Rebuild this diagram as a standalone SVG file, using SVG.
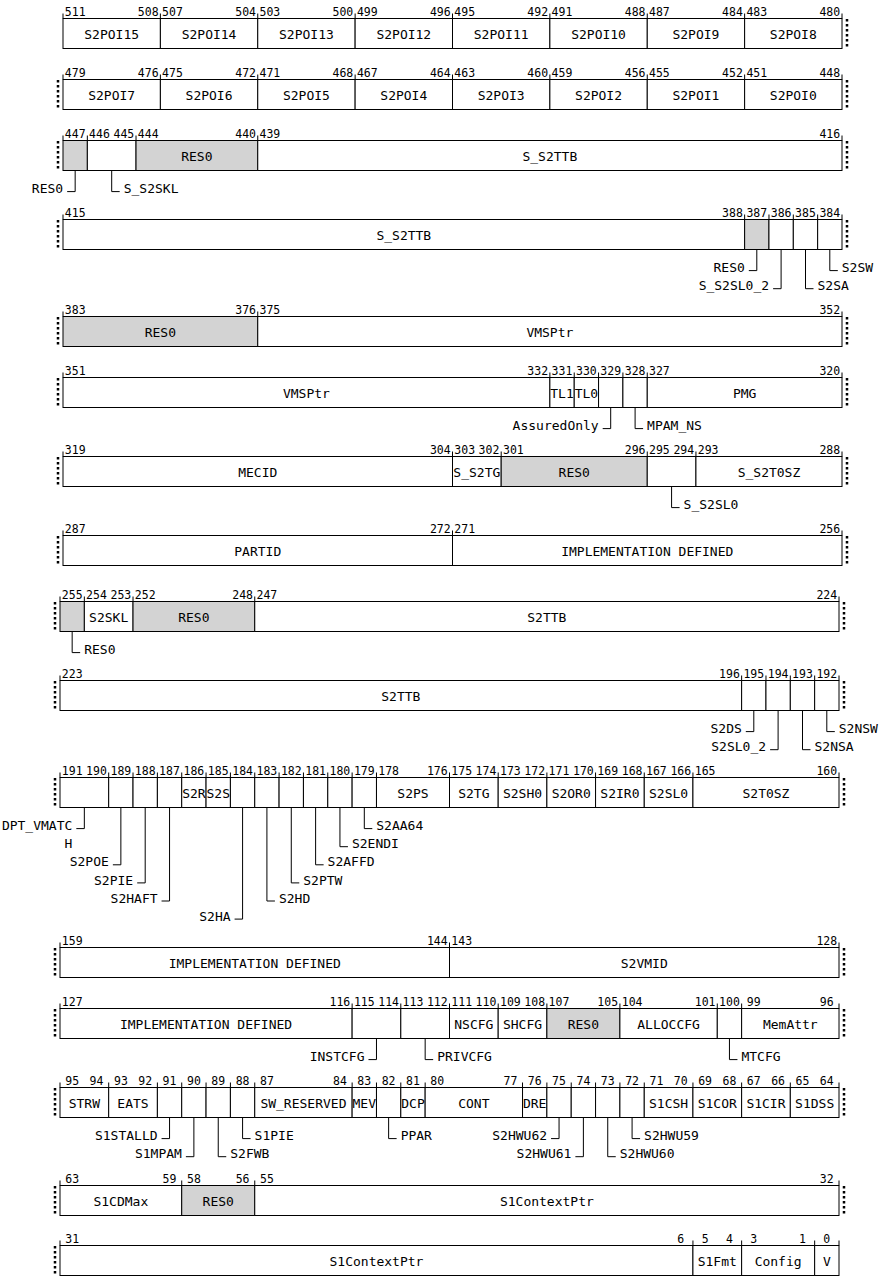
<svg xmlns="http://www.w3.org/2000/svg" width="880" height="1280" viewBox="0 0 880 1280">
<style>
text{font-family:"DejaVu Sans Mono",monospace;fill:#000}
.row rect{fill:#fff;stroke:#000;stroke-width:1}
.row rect.g{fill:#d3d3d3}
.nm{font-size:13px;text-anchor:middle}
.nu{font-size:11.5px;text-anchor:middle}
.cl{font-size:13px;text-anchor:end}
.cr{font-size:13px;text-anchor:start}
.tk{stroke:#000;stroke-width:1;fill:none}
.dt{stroke:#000;stroke-width:2.5;stroke-dasharray:2.5 2.5;fill:none}
#connectors path{fill:none;stroke:#000;stroke-width:1}
</style>
<rect x="0" y="0" width="880" height="1280" fill="#fff"/>

<g id="row1" class="row" transform="translate(0,18.5)">
<g id="f511"><rect x="63" y="0" width="97.38" height="30"/><text class="nm" x="111.69" y="20.5">S2POI15</text></g>
<g id="f507"><rect x="160.38" y="0" width="97.38" height="30"/><text class="nm" x="209.06" y="20.5">S2POI14</text></g>
<g id="f503"><rect x="257.75" y="0" width="97.38" height="30"/><text class="nm" x="306.44" y="20.5">S2POI13</text></g>
<g id="f499"><rect x="355.13" y="0" width="97.38" height="30"/><text class="nm" x="403.81" y="20.5">S2POI12</text></g>
<g id="f495"><rect x="452.5" y="0" width="97.38" height="30"/><text class="nm" x="501.19" y="20.5">S2POI11</text></g>
<g id="f491"><rect x="549.88" y="0" width="97.38" height="30"/><text class="nm" x="598.56" y="20.5">S2POI10</text></g>
<g id="f487"><rect x="647.25" y="0" width="97.38" height="30"/><text class="nm" x="695.94" y="20.5">S2POI9</text></g>
<g id="f483"><rect x="744.63" y="0" width="97.38" height="30"/><text class="nm" x="793.31" y="20.5">S2POI8</text></g>
<path class="tk" d="M63 -5V0M160.38 -5V0M257.75 -5V0M355.13 -5V0M452.5 -5V0M549.88 -5V0M647.25 -5V0M744.63 -5V0M842 -5V0"/>
<path class="dt" d="M847 0.5V29.5"/>
<g class="nu"><text x="75.2" y="-2.5">511</text><text x="148.2" y="-2.5">508</text><text x="172.5" y="-2.5">507</text><text x="245.6" y="-2.5">504</text><text x="269.9" y="-2.5">503</text><text x="342.9" y="-2.5">500</text><text x="367.3" y="-2.5">499</text><text x="440.3" y="-2.5">496</text><text x="464.7" y="-2.5">495</text><text x="537.7" y="-2.5">492</text><text x="562" y="-2.5">491</text><text x="635.1" y="-2.5">488</text><text x="659.4" y="-2.5">487</text><text x="732.5" y="-2.5">484</text><text x="756.8" y="-2.5">483</text><text x="829.8" y="-2.5">480</text></g>
</g>

<g id="row2" class="row" transform="translate(0,79.5)">
<g id="f479"><rect x="63" y="0" width="97.38" height="30"/><text class="nm" x="111.69" y="20.5">S2POI7</text></g>
<g id="f475"><rect x="160.38" y="0" width="97.38" height="30"/><text class="nm" x="209.06" y="20.5">S2POI6</text></g>
<g id="f471"><rect x="257.75" y="0" width="97.38" height="30"/><text class="nm" x="306.44" y="20.5">S2POI5</text></g>
<g id="f467"><rect x="355.13" y="0" width="97.38" height="30"/><text class="nm" x="403.81" y="20.5">S2POI4</text></g>
<g id="f463"><rect x="452.5" y="0" width="97.38" height="30"/><text class="nm" x="501.19" y="20.5">S2POI3</text></g>
<g id="f459"><rect x="549.88" y="0" width="97.38" height="30"/><text class="nm" x="598.56" y="20.5">S2POI2</text></g>
<g id="f455"><rect x="647.25" y="0" width="97.38" height="30"/><text class="nm" x="695.94" y="20.5">S2POI1</text></g>
<g id="f451"><rect x="744.63" y="0" width="97.38" height="30"/><text class="nm" x="793.31" y="20.5">S2POI0</text></g>
<path class="tk" d="M63 -5V0M160.38 -5V0M257.75 -5V0M355.13 -5V0M452.5 -5V0M549.88 -5V0M647.25 -5V0M744.63 -5V0M842 -5V0"/>
<path class="dt" d="M58 0.5V29.5M847 0.5V29.5"/>
<g class="nu"><text x="75.2" y="-2.5">479</text><text x="148.2" y="-2.5">476</text><text x="172.5" y="-2.5">475</text><text x="245.6" y="-2.5">472</text><text x="269.9" y="-2.5">471</text><text x="342.9" y="-2.5">468</text><text x="367.3" y="-2.5">467</text><text x="440.3" y="-2.5">464</text><text x="464.7" y="-2.5">463</text><text x="537.7" y="-2.5">460</text><text x="562" y="-2.5">459</text><text x="635.1" y="-2.5">456</text><text x="659.4" y="-2.5">455</text><text x="732.5" y="-2.5">452</text><text x="756.8" y="-2.5">451</text><text x="829.8" y="-2.5">448</text></g>
</g>

<g id="row3" class="row" transform="translate(0,140.5)">
<g id="f447"><rect class="g" x="63" y="0" width="24.34" height="30"/><text class="cl" x="63.17" y="52.7">RES0</text></g>
<g id="f446"><rect x="87.34" y="0" width="48.69" height="30"/><text class="cr" x="123.69" y="52.7">S_S2SKL</text></g>
<g id="f444"><rect class="g" x="136.03" y="0" width="121.72" height="30"/><text class="nm" x="196.89" y="20.5">RES0</text></g>
<g id="f439"><rect x="257.75" y="0" width="584.25" height="30"/><text class="nm" x="549.88" y="20.5">S_S2TTB</text></g>
<path class="tk" d="M63 -5V0M87.34 -5V0M136.03 -5V0M257.75 -5V0M842 -5V0"/>
<path class="dt" d="M58 0.5V29.5M847 0.5V29.5"/>
<g class="nu"><text x="75.2" y="-2.5">447</text><text x="99.5" y="-2.5">446</text><text x="123.9" y="-2.5">445</text><text x="148.2" y="-2.5">444</text><text x="245.6" y="-2.5">440</text><text x="269.9" y="-2.5">439</text><text x="829.8" y="-2.5">416</text></g>
</g>

<g id="row4" class="row" transform="translate(0,219.5)">
<g id="f415"><rect x="63" y="0" width="681.63" height="30"/><text class="nm" x="403.81" y="20.5">S_S2TTB</text></g>
<g id="f387"><rect class="g" x="744.63" y="0" width="24.34" height="30"/><text class="cl" x="744.8" y="52.7">RES0</text></g>
<g id="f386"><rect x="768.97" y="0" width="24.34" height="30"/><text class="cl" x="769.1" y="70.8">S_S2SL0_2</text></g>
<g id="f385"><rect x="793.31" y="0" width="24.34" height="30"/><text class="cr" x="817.5" y="70.8">S2SA</text></g>
<g id="f384"><rect x="817.66" y="0" width="24.34" height="30"/><text class="cr" x="841.8" y="52.7">S2SW</text></g>
<path class="tk" d="M63 -5V0M744.63 -5V0M768.97 -5V0M793.31 -5V0M817.66 -5V0M842 -5V0"/>
<path class="dt" d="M58 0.5V29.5M847 0.5V29.5"/>
<g class="nu"><text x="75.2" y="-2.5">415</text><text x="732.5" y="-2.5">388</text><text x="756.8" y="-2.5">387</text><text x="781.1" y="-2.5">386</text><text x="805.5" y="-2.5">385</text><text x="829.8" y="-2.5">384</text></g>
</g>

<g id="row5" class="row" transform="translate(0,316.5)">
<g id="f383"><rect class="g" x="63" y="0" width="194.75" height="30"/><text class="nm" x="160.38" y="20.5">RES0</text></g>
<g id="f375"><rect x="257.75" y="0" width="584.25" height="30"/><text class="nm" x="549.88" y="20.5">VMSPtr</text></g>
<path class="tk" d="M63 -5V0M257.75 -5V0M842 -5V0"/>
<path class="dt" d="M58 0.5V29.5M847 0.5V29.5"/>
<g class="nu"><text x="75.2" y="-2.5">383</text><text x="245.6" y="-2.5">376</text><text x="269.9" y="-2.5">375</text><text x="829.8" y="-2.5">352</text></g>
</g>

<g id="row6" class="row" transform="translate(0,377.5)">
<g id="f351"><rect x="63" y="0" width="486.88" height="30"/><text class="nm" x="306.44" y="20.5">VMSPtr</text></g>
<g id="f331"><rect x="549.88" y="0" width="24.34" height="30"/><text class="nm" x="562.05" y="20.5">TL1</text></g>
<g id="f330"><rect x="574.22" y="0" width="24.34" height="30"/><text class="nm" x="586.39" y="20.5">TL0</text></g>
<g id="f329"><rect x="598.56" y="0" width="24.34" height="30"/><text class="cl" x="598.7" y="52.7">AssuredOnly</text></g>
<g id="f328"><rect x="622.91" y="0" width="24.34" height="30"/><text class="cr" x="647.1" y="52.7">MPAM_NS</text></g>
<g id="f327"><rect x="647.25" y="0" width="194.75" height="30"/><text class="nm" x="744.63" y="20.5">PMG</text></g>
<path class="tk" d="M63 -5V0M549.88 -5V0M574.22 -5V0M598.56 -5V0M622.91 -5V0M647.25 -5V0M842 -5V0"/>
<path class="dt" d="M58 0.5V29.5M847 0.5V29.5"/>
<g class="nu"><text x="75.2" y="-2.5">351</text><text x="537.7" y="-2.5">332</text><text x="562" y="-2.5">331</text><text x="586.4" y="-2.5">330</text><text x="610.7" y="-2.5">329</text><text x="635.1" y="-2.5">328</text><text x="659.4" y="-2.5">327</text><text x="829.8" y="-2.5">320</text></g>
</g>

<g id="row7" class="row" transform="translate(0,456.5)">
<g id="f319"><rect x="63" y="0" width="389.5" height="30"/><text class="nm" x="257.75" y="20.5">MECID</text></g>
<g id="f303"><rect x="452.5" y="0" width="48.69" height="30"/><text class="nm" x="476.84" y="20.5">S_S2TG</text></g>
<g id="f301"><rect class="g" x="501.19" y="0" width="146.06" height="30"/><text class="nm" x="574.22" y="20.5">RES0</text></g>
<g id="f295"><rect x="647.25" y="0" width="48.69" height="30"/><text class="cr" x="683.59" y="52.7">S_S2SL0</text></g>
<g id="f293"><rect x="695.94" y="0" width="146.06" height="30"/><text class="nm" x="768.97" y="20.5">S_S2T0SZ</text></g>
<path class="tk" d="M63 -5V0M452.5 -5V0M501.19 -5V0M647.25 -5V0M695.94 -5V0M842 -5V0"/>
<path class="dt" d="M58 0.5V29.5M847 0.5V29.5"/>
<g class="nu"><text x="75.2" y="-2.5">319</text><text x="440.3" y="-2.5">304</text><text x="464.7" y="-2.5">303</text><text x="489" y="-2.5">302</text><text x="513.4" y="-2.5">301</text><text x="635.1" y="-2.5">296</text><text x="659.4" y="-2.5">295</text><text x="683.8" y="-2.5">294</text><text x="708.1" y="-2.5">293</text><text x="829.8" y="-2.5">288</text></g>
</g>

<g id="row8" class="row" transform="translate(0,535.5)">
<g id="f287"><rect x="63" y="0" width="389.5" height="30"/><text class="nm" x="257.75" y="20.5">PARTID</text></g>
<g id="f271"><rect x="452.5" y="0" width="389.5" height="30"/><text class="nm" x="647.25" y="20.5">IMPLEMENTATION DEFINED</text></g>
<path class="tk" d="M63 -5V0M452.5 -5V0M842 -5V0"/>
<path class="dt" d="M58 0.5V29.5M847 0.5V29.5"/>
<g class="nu"><text x="75.2" y="-2.5">287</text><text x="440.3" y="-2.5">272</text><text x="464.7" y="-2.5">271</text><text x="829.8" y="-2.5">256</text></g>
</g>

<g id="row9" class="row" transform="translate(0,601.5)">
<g id="f255"><rect class="g" x="60" y="0" width="24.34" height="30"/><text class="cr" x="84.17" y="52.7">RES0</text></g>
<g id="f254"><rect x="84.34" y="0" width="48.69" height="30"/><text class="nm" x="108.69" y="20.5">S2SKL</text></g>
<g id="f252"><rect class="g" x="133.03" y="0" width="121.72" height="30"/><text class="nm" x="193.89" y="20.5">RES0</text></g>
<g id="f247"><rect x="254.75" y="0" width="584.25" height="30"/><text class="nm" x="546.88" y="20.5">S2TTB</text></g>
<path class="tk" d="M60 -5V0M84.34 -5V0M133.03 -5V0M254.75 -5V0M839 -5V0"/>
<path class="dt" d="M55 0.5V29.5M844 0.5V29.5"/>
<g class="nu"><text x="72.2" y="-2.5">255</text><text x="96.5" y="-2.5">254</text><text x="120.9" y="-2.5">253</text><text x="145.2" y="-2.5">252</text><text x="242.6" y="-2.5">248</text><text x="266.9" y="-2.5">247</text><text x="826.8" y="-2.5">224</text></g>
</g>

<g id="row10" class="row" transform="translate(0,680.5)">
<g id="f223"><rect x="60" y="0" width="681.63" height="30"/><text class="nm" x="400.81" y="20.5">S2TTB</text></g>
<g id="f195"><rect x="741.63" y="0" width="24.34" height="30"/><text class="cl" x="741.8" y="52.7">S2DS</text></g>
<g id="f194"><rect x="765.97" y="0" width="24.34" height="30"/><text class="cl" x="766.1" y="70.8">S2SL0_2</text></g>
<g id="f193"><rect x="790.31" y="0" width="24.34" height="30"/><text class="cr" x="814.5" y="70.8">S2NSA</text></g>
<g id="f192"><rect x="814.66" y="0" width="24.34" height="30"/><text class="cr" x="838.8" y="52.7">S2NSW</text></g>
<path class="tk" d="M60 -5V0M741.63 -5V0M765.97 -5V0M790.31 -5V0M814.66 -5V0M839 -5V0"/>
<path class="dt" d="M55 0.5V29.5M844 0.5V29.5"/>
<g class="nu"><text x="72.2" y="-2.5">223</text><text x="729.5" y="-2.5">196</text><text x="753.8" y="-2.5">195</text><text x="778.1" y="-2.5">194</text><text x="802.5" y="-2.5">193</text><text x="826.8" y="-2.5">192</text></g>
</g>

<g id="row11" class="row" transform="translate(0,777.5)">
<g id="f191"><rect x="60" y="0" width="48.69" height="30"/><text class="cl" x="72.34" y="52.7">DPT_VMATC</text><text class="cl" x="72.34" y="70.8">H</text></g>
<g id="f189"><rect x="108.69" y="0" width="24.34" height="30"/><text class="cl" x="108.86" y="88.9">S2POE</text></g>
<g id="f188"><rect x="133.03" y="0" width="24.34" height="30"/><text class="cl" x="133.2" y="107">S2PIE</text></g>
<g id="f187"><rect x="157.38" y="0" width="24.34" height="30"/><text class="cl" x="157.55" y="125.1">S2HAFT</text></g>
<g id="f186"><rect x="181.72" y="0" width="24.34" height="30"/><text class="nm" x="193.89" y="20.5">S2R</text></g>
<g id="f185"><rect x="206.06" y="0" width="24.34" height="30"/><text class="nm" x="218.24" y="20.5">S2S</text></g>
<g id="f184"><rect x="230.41" y="0" width="24.34" height="30"/><text class="cl" x="230.58" y="143.2">S2HA</text></g>
<g id="f183"><rect x="254.75" y="0" width="24.34" height="30"/><text class="cr" x="278.92" y="125.1">S2HD</text></g>
<g id="f182"><rect x="279.09" y="0" width="24.34" height="30"/><text class="cr" x="303.27" y="107">S2PTW</text></g>
<g id="f181"><rect x="303.44" y="0" width="24.34" height="30"/><text class="cr" x="327.61" y="88.9">S2AFFD</text></g>
<g id="f180"><rect x="327.78" y="0" width="24.34" height="30"/><text class="cr" x="351.95" y="70.8">S2ENDI</text></g>
<g id="f179"><rect x="352.13" y="0" width="24.34" height="30"/><text class="cr" x="376.3" y="52.7">S2AA64</text></g>
<g id="f178"><rect x="376.47" y="0" width="73.03" height="30"/><text class="nm" x="412.98" y="20.5">S2PS</text></g>
<g id="f175"><rect x="449.5" y="0" width="48.69" height="30"/><text class="nm" x="473.84" y="20.5">S2TG</text></g>
<g id="f173"><rect x="498.19" y="0" width="48.69" height="30"/><text class="nm" x="522.53" y="20.5">S2SH0</text></g>
<g id="f171"><rect x="546.88" y="0" width="48.69" height="30"/><text class="nm" x="571.22" y="20.5">S2OR0</text></g>
<g id="f169"><rect x="595.56" y="0" width="48.69" height="30"/><text class="nm" x="619.91" y="20.5">S2IR0</text></g>
<g id="f167"><rect x="644.25" y="0" width="48.69" height="30"/><text class="nm" x="668.59" y="20.5">S2SL0</text></g>
<g id="f165"><rect x="692.94" y="0" width="146.06" height="30"/><text class="nm" x="765.97" y="20.5">S2T0SZ</text></g>
<path class="tk" d="M60 -5V0M108.69 -5V0M133.03 -5V0M157.38 -5V0M181.72 -5V0M206.06 -5V0M230.41 -5V0M254.75 -5V0M279.09 -5V0M303.44 -5V0M327.78 -5V0M352.13 -5V0M376.47 -5V0M449.5 -5V0M498.19 -5V0M546.88 -5V0M595.56 -5V0M644.25 -5V0M692.94 -5V0M839 -5V0"/>
<path class="dt" d="M55 0.5V29.5M844 0.5V29.5"/>
<g class="nu"><text x="72.2" y="-2.5">191</text><text x="96.5" y="-2.5">190</text><text x="120.9" y="-2.5">189</text><text x="145.2" y="-2.5">188</text><text x="169.5" y="-2.5">187</text><text x="193.9" y="-2.5">186</text><text x="218.2" y="-2.5">185</text><text x="242.6" y="-2.5">184</text><text x="266.9" y="-2.5">183</text><text x="291.3" y="-2.5">182</text><text x="315.6" y="-2.5">181</text><text x="339.9" y="-2.5">180</text><text x="364.3" y="-2.5">179</text><text x="388.6" y="-2.5">178</text><text x="437.3" y="-2.5">176</text><text x="461.7" y="-2.5">175</text><text x="486" y="-2.5">174</text><text x="510.4" y="-2.5">173</text><text x="534.7" y="-2.5">172</text><text x="559" y="-2.5">171</text><text x="583.4" y="-2.5">170</text><text x="607.7" y="-2.5">169</text><text x="632.1" y="-2.5">168</text><text x="656.4" y="-2.5">167</text><text x="680.8" y="-2.5">166</text><text x="705.1" y="-2.5">165</text><text x="826.8" y="-2.5">160</text></g>
</g>

<g id="row12" class="row" transform="translate(0,947.5)">
<g id="f159"><rect x="60" y="0" width="389.5" height="30"/><text class="nm" x="254.75" y="20.5">IMPLEMENTATION DEFINED</text></g>
<g id="f143"><rect x="449.5" y="0" width="389.5" height="30"/><text class="nm" x="644.25" y="20.5">S2VMID</text></g>
<path class="tk" d="M60 -5V0M449.5 -5V0M839 -5V0"/>
<path class="dt" d="M55 0.5V29.5M844 0.5V29.5"/>
<g class="nu"><text x="72.2" y="-2.5">159</text><text x="437.3" y="-2.5">144</text><text x="461.7" y="-2.5">143</text><text x="826.8" y="-2.5">128</text></g>
</g>

<g id="row13" class="row" transform="translate(0,1008.5)">
<g id="f127"><rect x="60" y="0" width="292.13" height="30"/><text class="nm" x="206.06" y="20.5">IMPLEMENTATION DEFINED</text></g>
<g id="f115"><rect x="352.13" y="0" width="48.69" height="30"/><text class="cl" x="364.47" y="52.7">INSTCFG</text></g>
<g id="f113"><rect x="400.81" y="0" width="48.69" height="30"/><text class="cr" x="437.16" y="52.7">PRIVCFG</text></g>
<g id="f111"><rect x="449.5" y="0" width="48.69" height="30"/><text class="nm" x="473.84" y="20.5">NSCFG</text></g>
<g id="f109"><rect x="498.19" y="0" width="48.69" height="30"/><text class="nm" x="522.53" y="20.5">SHCFG</text></g>
<g id="f107"><rect class="g" x="546.88" y="0" width="73.03" height="30"/><text class="nm" x="583.39" y="20.5">RES0</text></g>
<g id="f104"><rect x="619.91" y="0" width="97.38" height="30"/><text class="nm" x="668.59" y="20.5">ALLOCCFG</text></g>
<g id="f100"><rect x="717.28" y="0" width="24.34" height="30"/><text class="cr" x="741.45" y="52.7">MTCFG</text></g>
<g id="f99"><rect x="741.63" y="0" width="97.38" height="30"/><text class="nm" x="790.31" y="20.5">MemAttr</text></g>
<path class="tk" d="M60 -5V0M352.13 -5V0M400.81 -5V0M449.5 -5V0M498.19 -5V0M546.88 -5V0M619.91 -5V0M717.28 -5V0M741.63 -5V0M839 -5V0"/>
<path class="dt" d="M55 0.5V29.5M844 0.5V29.5"/>
<g class="nu"><text x="72.2" y="-2.5">127</text><text x="339.9" y="-2.5">116</text><text x="364.3" y="-2.5">115</text><text x="388.6" y="-2.5">114</text><text x="413" y="-2.5">113</text><text x="437.3" y="-2.5">112</text><text x="461.7" y="-2.5">111</text><text x="486" y="-2.5">110</text><text x="510.4" y="-2.5">109</text><text x="534.7" y="-2.5">108</text><text x="559" y="-2.5">107</text><text x="607.7" y="-2.5">105</text><text x="632.1" y="-2.5">104</text><text x="705.1" y="-2.5">101</text><text x="729.5" y="-2.5">100</text><text x="753.8" y="-2.5">99</text><text x="826.8" y="-2.5">96</text></g>
</g>

<g id="row14" class="row" transform="translate(0,1087.5)">
<g id="f95"><rect x="60" y="0" width="48.69" height="30"/><text class="nm" x="84.34" y="20.5">STRW</text></g>
<g id="f93"><rect x="108.69" y="0" width="48.69" height="30"/><text class="nm" x="133.03" y="20.5">EATS</text></g>
<g id="f91"><rect x="157.38" y="0" width="24.34" height="30"/><text class="cl" x="157.55" y="52.7">S1STALLD</text></g>
<g id="f90"><rect x="181.72" y="0" width="24.34" height="30"/><text class="cl" x="181.89" y="70.8">S1MPAM</text></g>
<g id="f89"><rect x="206.06" y="0" width="24.34" height="30"/><text class="cr" x="230.24" y="70.8">S2FWB</text></g>
<g id="f88"><rect x="230.41" y="0" width="24.34" height="30"/><text class="cr" x="254.58" y="52.7">S1PIE</text></g>
<g id="f87"><rect x="254.75" y="0" width="97.38" height="30"/><text class="nm" x="303.44" y="20.5">SW_RESERVED</text></g>
<g id="f83"><rect x="352.13" y="0" width="24.34" height="30"/><text class="nm" x="364.3" y="20.5">MEV</text></g>
<g id="f82"><rect x="376.47" y="0" width="24.34" height="30"/><text class="cr" x="400.64" y="52.7">PPAR</text></g>
<g id="f81"><rect x="400.81" y="0" width="24.34" height="30"/><text class="nm" x="412.98" y="20.5">DCP</text></g>
<g id="f80"><rect x="425.16" y="0" width="97.38" height="30"/><text class="nm" x="473.84" y="20.5">CONT</text></g>
<g id="f76"><rect x="522.53" y="0" width="24.34" height="30"/><text class="nm" x="534.7" y="20.5">DRE</text></g>
<g id="f75"><rect x="546.88" y="0" width="24.34" height="30"/><text class="cl" x="547.05" y="52.7">S2HWU62</text></g>
<g id="f74"><rect x="571.22" y="0" width="24.34" height="30"/><text class="cl" x="571.39" y="70.8">S2HWU61</text></g>
<g id="f73"><rect x="595.56" y="0" width="24.34" height="30"/><text class="cr" x="619.74" y="70.8">S2HWU60</text></g>
<g id="f72"><rect x="619.91" y="0" width="24.34" height="30"/><text class="cr" x="644.08" y="52.7">S2HWU59</text></g>
<g id="f71"><rect x="644.25" y="0" width="48.69" height="30"/><text class="nm" x="668.59" y="20.5">S1CSH</text></g>
<g id="f69"><rect x="692.94" y="0" width="48.69" height="30"/><text class="nm" x="717.28" y="20.5">S1COR</text></g>
<g id="f67"><rect x="741.63" y="0" width="48.69" height="30"/><text class="nm" x="765.97" y="20.5">S1CIR</text></g>
<g id="f65"><rect x="790.31" y="0" width="48.69" height="30"/><text class="nm" x="814.66" y="20.5">S1DSS</text></g>
<path class="tk" d="M60 -5V0M108.69 -5V0M157.38 -5V0M181.72 -5V0M206.06 -5V0M230.41 -5V0M254.75 -5V0M352.13 -5V0M376.47 -5V0M400.81 -5V0M425.16 -5V0M522.53 -5V0M546.88 -5V0M571.22 -5V0M595.56 -5V0M619.91 -5V0M644.25 -5V0M692.94 -5V0M741.63 -5V0M790.31 -5V0M839 -5V0"/>
<path class="dt" d="M55 0.5V29.5M844 0.5V29.5"/>
<g class="nu"><text x="72.2" y="-2.5">95</text><text x="96.5" y="-2.5">94</text><text x="120.9" y="-2.5">93</text><text x="145.2" y="-2.5">92</text><text x="169.5" y="-2.5">91</text><text x="193.9" y="-2.5">90</text><text x="218.2" y="-2.5">89</text><text x="242.6" y="-2.5">88</text><text x="266.9" y="-2.5">87</text><text x="339.9" y="-2.5">84</text><text x="364.3" y="-2.5">83</text><text x="388.6" y="-2.5">82</text><text x="413" y="-2.5">81</text><text x="437.3" y="-2.5">80</text><text x="510.4" y="-2.5">77</text><text x="534.7" y="-2.5">76</text><text x="559" y="-2.5">75</text><text x="583.4" y="-2.5">74</text><text x="607.7" y="-2.5">73</text><text x="632.1" y="-2.5">72</text><text x="656.4" y="-2.5">71</text><text x="680.8" y="-2.5">70</text><text x="705.1" y="-2.5">69</text><text x="729.5" y="-2.5">68</text><text x="753.8" y="-2.5">67</text><text x="778.1" y="-2.5">66</text><text x="802.5" y="-2.5">65</text><text x="826.8" y="-2.5">64</text></g>
</g>

<g id="row15" class="row" transform="translate(0,1185.5)">
<g id="f63"><rect x="60" y="0" width="121.72" height="30"/><text class="nm" x="120.86" y="20.5">S1CDMax</text></g>
<g id="f58"><rect class="g" x="181.72" y="0" width="73.03" height="30"/><text class="nm" x="218.24" y="20.5">RES0</text></g>
<g id="f55"><rect x="254.75" y="0" width="584.25" height="30"/><text class="nm" x="546.88" y="20.5">S1ContextPtr</text></g>
<path class="tk" d="M60 -5V0M181.72 -5V0M254.75 -5V0M839 -5V0"/>
<path class="dt" d="M55 0.5V29.5M844 0.5V29.5"/>
<g class="nu"><text x="72.2" y="-2.5">63</text><text x="169.5" y="-2.5">59</text><text x="193.9" y="-2.5">58</text><text x="242.6" y="-2.5">56</text><text x="266.9" y="-2.5">55</text><text x="826.8" y="-2.5">32</text></g>
</g>

<g id="row16" class="row" transform="translate(0,1245.5)">
<g id="f31"><rect x="60" y="0" width="632.94" height="30"/><text class="nm" x="376.47" y="20.5">S1ContextPtr</text></g>
<g id="f5"><rect x="692.94" y="0" width="48.69" height="30"/><text class="nm" x="717.28" y="20.5">S1Fmt</text></g>
<g id="f3"><rect x="741.63" y="0" width="73.03" height="30"/><text class="nm" x="778.14" y="20.5">Config</text></g>
<g id="f0"><rect x="814.66" y="0" width="24.34" height="30"/><text class="nm" x="826.83" y="20.5">V</text></g>
<path class="tk" d="M60 -5V0M692.94 -5V0M741.63 -5V0M814.66 -5V0M839 -5V0"/>
<path class="dt" d="M55 0.5V29.5"/>
<g class="nu"><text x="72.2" y="-2.5">31</text><text x="680.8" y="-2.5">6</text><text x="705.1" y="-2.5">5</text><text x="729.5" y="-2.5">4</text><text x="753.8" y="-2.5">3</text><text x="802.5" y="-2.5">1</text><text x="826.8" y="-2.5">0</text></g>
</g>

<g id="connectors">
<g transform="translate(0,140.5)">
<path d="M75.17 30V51.1H67.17"/>
<path d="M111.69 30V51.1H119.69"/>
</g>
<g transform="translate(0,219.5)">
<path d="M756.8 30V51.1H748.8"/>
<path d="M781.1 30V69.2H773.1"/>
<path d="M805.5 30V69.2H813.5"/>
<path d="M829.8 30V51.1H837.8"/>
</g>
<g transform="translate(0,377.5)">
<path d="M610.7 30V51.1H602.7"/>
<path d="M635.1 30V51.1H643.1"/>
</g>
<g transform="translate(0,456.5)">
<path d="M671.59 30V51.1H679.59"/>
</g>
<g transform="translate(0,601.5)">
<path d="M72.17 30V51.1H80.17"/>
</g>
<g transform="translate(0,680.5)">
<path d="M753.8 30V51.1H745.8"/>
<path d="M778.1 30V69.2H770.1"/>
<path d="M802.5 30V69.2H810.5"/>
<path d="M826.8 30V51.1H834.8"/>
</g>
<g transform="translate(0,777.5)">
<path d="M84.34 30V51.1H76.34"/>
<path d="M120.86 30V87.3H112.86"/>
<path d="M145.2 30V105.4H137.2"/>
<path d="M169.55 30V123.5H161.55"/>
<path d="M242.58 30V141.6H234.58"/>
<path d="M266.92 30V123.5H274.92"/>
<path d="M291.27 30V105.4H299.27"/>
<path d="M315.61 30V87.3H323.61"/>
<path d="M339.95 30V69.2H347.95"/>
<path d="M364.3 30V51.1H372.3"/>
</g>
<g transform="translate(0,1008.5)">
<path d="M376.47 30V51.1H368.47"/>
<path d="M425.16 30V51.1H433.16"/>
<path d="M729.45 30V51.1H737.45"/>
</g>
<g transform="translate(0,1087.5)">
<path d="M169.55 30V51.1H161.55"/>
<path d="M193.89 30V69.2H185.89"/>
<path d="M218.24 30V69.2H226.24"/>
<path d="M242.58 30V51.1H250.58"/>
<path d="M388.64 30V51.1H396.64"/>
<path d="M559.05 30V51.1H551.05"/>
<path d="M583.39 30V69.2H575.39"/>
<path d="M607.74 30V69.2H615.74"/>
<path d="M632.08 30V51.1H640.08"/>
</g>
</g>
</svg>
